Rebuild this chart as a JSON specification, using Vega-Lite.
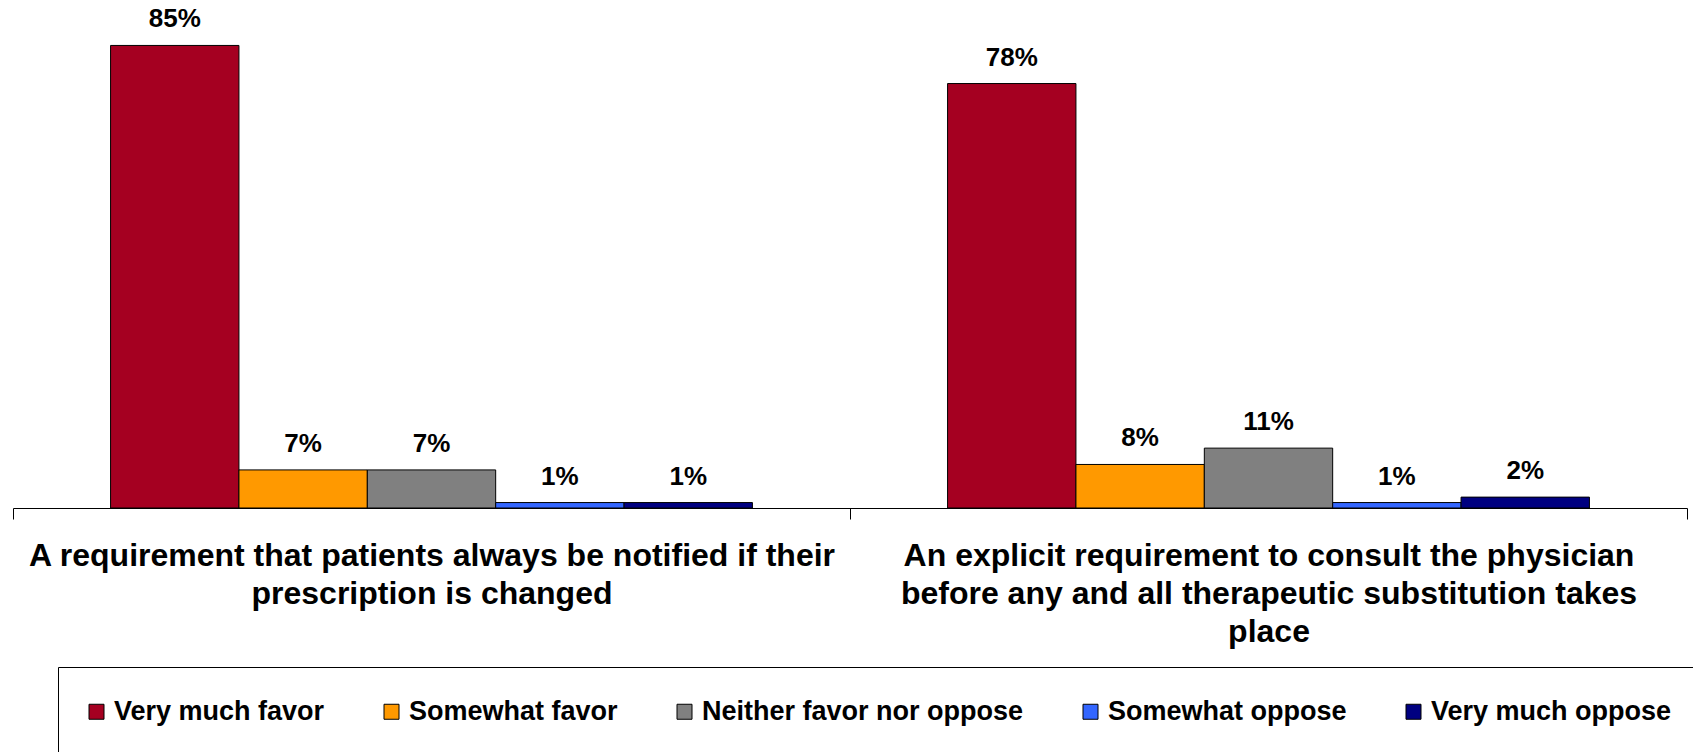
{
  "$schema": "https://vega.github.io/schema/vega-lite/v6.json",
  "width": 1674,
  "height": 508,
  "autosize": "none",
  "padding": {"left": 13, "top": 0, "right": 6, "bottom": 244},
  "background": "white",
  "data": {
    "values": [
      {"item": "A requirement that patients always be notified if their|prescription is changed", "response": "Very much favor", "pct": 0.85},
      {"item": "A requirement that patients always be notified if their|prescription is changed", "response": "Somewhat favor", "pct": 0.07},
      {"item": "A requirement that patients always be notified if their|prescription is changed", "response": "Neither favor nor oppose", "pct": 0.07},
      {"item": "A requirement that patients always be notified if their|prescription is changed", "response": "Somewhat oppose", "pct": 0.01},
      {"item": "A requirement that patients always be notified if their|prescription is changed", "response": "Very much oppose", "pct": 0.01},
      {"item": "An explicit requirement to consult the physician|before any and all therapeutic substitution takes|place", "response": "Very much favor", "pct": 0.78},
      {"item": "An explicit requirement to consult the physician|before any and all therapeutic substitution takes|place", "response": "Somewhat favor", "pct": 0.08},
      {"item": "An explicit requirement to consult the physician|before any and all therapeutic substitution takes|place", "response": "Neither favor nor oppose", "pct": 0.11},
      {"item": "An explicit requirement to consult the physician|before any and all therapeutic substitution takes|place", "response": "Somewhat oppose", "pct": 0.01},
      {"item": "An explicit requirement to consult the physician|before any and all therapeutic substitution takes|place", "response": "Very much oppose", "pct": 0.02}
    ]
  },
  "encoding": {
    "x": {
      "field": "item",
      "type": "nominal",
      "sort": null,
      "scale": {"paddingInner": 0, "paddingOuter": 0},
      "axis": {
        "title": null,
        "labelExpr": "isValid(datum.value) ? split(datum.value, '|') : ''",
        "labelFont": "Liberation Sans",
        "labelFontWeight": "bold",
        "labelFontSize": 32,
        "labelColor": "black",
        "labelLineHeight": 38,
        "labelLimit": 1000,
        "labelPadding": 21,
        "labelAngle": 0,
        "labelBaseline": "top",
        "tickBand": "extent",
        "tickSize": 11,
        "tickColor": "black",
        "tickWidth": 1,
        "domainColor": "black",
        "domainWidth": 1.2
      }
    },
    "xOffset": {
      "field": "response",
      "type": "nominal",
      "sort": ["Very much favor", "Somewhat favor", "Neither favor nor oppose", "Somewhat oppose", "Very much oppose"],
      "scale": {"paddingInner": 0, "paddingOuter": 0.76}
    },
    "y": {
      "field": "pct",
      "type": "quantitative",
      "scale": {"domain": [0, 0.9335], "nice": false, "zero": true},
      "axis": null
    }
  },
  "layer": [
    {
      "mark": {"type": "bar", "stroke": "black", "strokeWidth": 1},
      "encoding": {
        "color": {
          "field": "response",
          "type": "nominal",
          "scale": {
            "domain": ["Very much favor", "Somewhat favor", "Neither favor nor oppose", "Somewhat oppose", "Very much oppose"],
            "range": ["#A50021", "#FF9900", "#808080", "#3366FF", "#000080"]
          },
          "legend": {
            "orient": "none",
            "legendX": 45,
            "legendY": 667,
            "direction": "horizontal",
            "columns": 5,
            "title": null,
            "symbolType": "square",
            "symbolSize": 225,
            "symbolStrokeColor": "black",
            "symbolStrokeWidth": 1,
            "symbolOpacity": 1,
            "symbolOffset": -6,
            "labelFont": "Liberation Sans",
            "labelFontWeight": "bold",
            "labelFontSize": 27,
            "labelColor": "black",
            "labelOffset": 4,
            "labelLimit": 500,
            "columnPadding": 57,
            "padding": 31,
            "strokeColor": "black",
            "fillColor": "white"
          }
        }
      }
    },
    {
      "mark": {"type": "text", "dy": -18, "baseline": "alphabetic", "font": "Liberation Sans", "fontWeight": "bold", "fontSize": 26, "color": "black"},
      "encoding": {
        "text": {"field": "pct", "type": "quantitative", "format": ".0%"}
      }
    }
  ],
  "config": {"view": {"stroke": null}}
}
